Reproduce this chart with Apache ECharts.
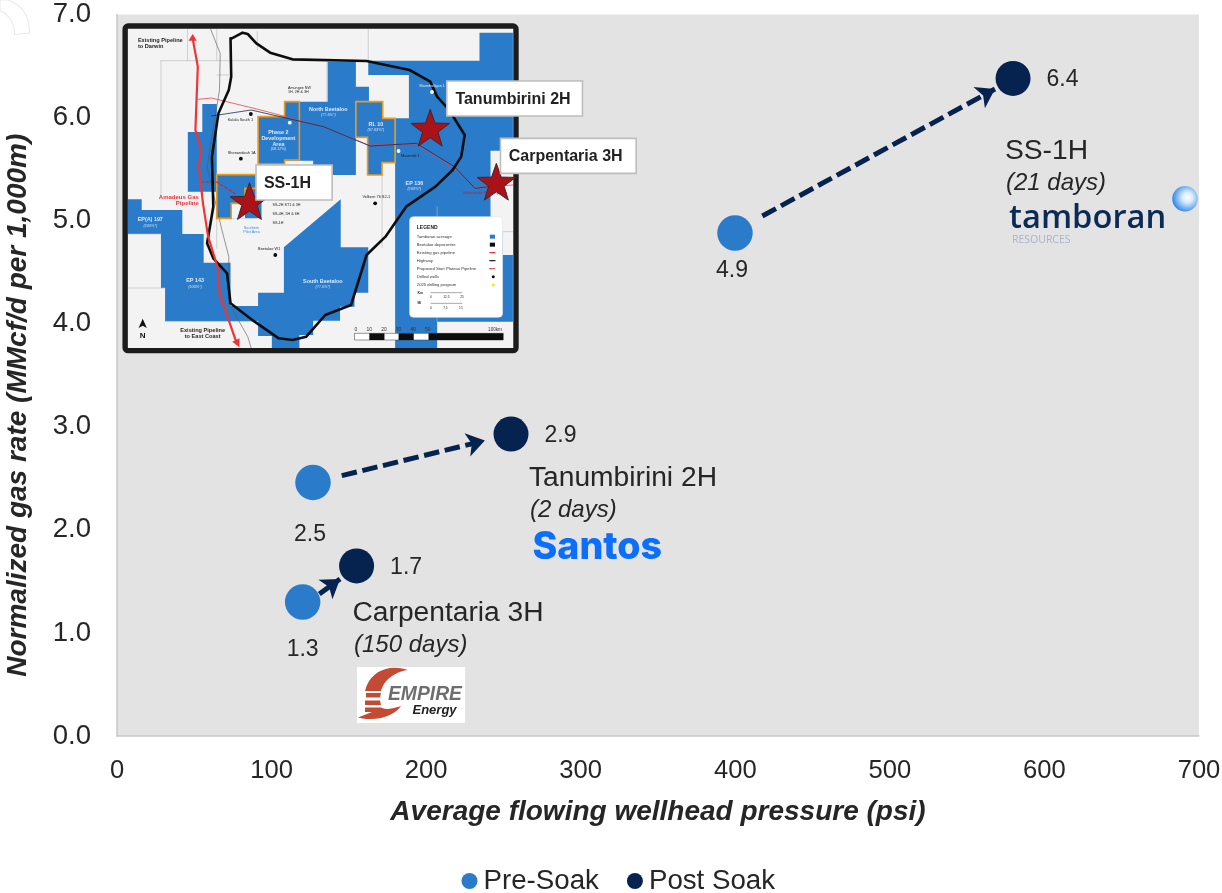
<!DOCTYPE html>
<html><head><meta charset="utf-8">
<style>html,body{margin:0;padding:0;background:#fff}#c{width:1222px;height:893px}</style>
<script src="https://cdn.jsdelivr.net/npm/echarts@6/dist/echarts.min.js"></script>
</head><body><div id="c"></div>
<script>
// ---------- chart values ----------
const preSoakX  = [399.8, 126.8, 120.1];
const preSoakY  = [4.88, 2.46, 1.30];
const postSoakX = [579.7, 254.9, 155.0];
const postSoakY = [6.38, 2.93, 1.65];
const preLabels  = ['4.9', '2.5', '1.3'];
const postLabels = ['6.4', '2.9', '1.7'];
const preLabelOffset = [[-3,38], [-3,52], [0,48]];
const arrowFrom = [[417.5, 5.045], [145.4, 2.526], [130.9, 1.378]];
const arrowTo   = [[568.0, 6.277], [238.0, 2.866], [144.3, 1.523]];
const xTitle = 'Average flowing wellhead pressure (psi)';
const yTitle = 'Normalized gas rate (MMcf/d per 1,000m)';

// ---------- colours ----------
const PRE = '#2a7ccb', POST = '#06234f', INK = '#262626', FONT = '"Liberation Sans", Arial, sans-serif';
const BLUE = '#2a7bca', ORANGE = '#f09a1a', RED = '#ee3535', STAR = '#ab1119';

// ---------- decoration helpers (inset map uses its own picture coordinates) ----------
const zx = x => 110 + x / 2.904, zy = y => 10 + y / 3;
const zp = a => a.map(p => [zx(p[0]), zy(p[1])]);
const g = [];
const poly = (pts, fill, stroke, lw) => g.push({type:'polygon', silent:true, shape:{points:zp(pts)}, style:{fill:fill||'none', stroke:stroke||'none', lineWidth:lw||0, lineJoin:'miter'}});
const pxPoly = (pts, style) => g.push({type:'polygon', silent:true, shape:{points:pts}, style});
const line = (pts, stroke, lw, dash) => g.push({type:'polyline', silent:true, shape:{points:zp(pts)}, style:{fill:'none', stroke, lineWidth:lw, lineDash:dash||null, lineJoin:'round', lineCap:'round'}});
const rect = (x0,y0,x1,y1,fill,stroke,lw,r) => g.push({type:'rect', silent:true, shape:{x:zx(x0),y:zy(y0),width:zx(x1)-zx(x0),height:zy(y1)-zy(y0),r:r||0}, style:{fill:fill||'none',stroke:stroke||'none',lineWidth:lw||0}});
const txt = (x,y,text,size,o={}) => g.push({type:'text', silent:true, x, y, style:Object.assign({text, fontSize:size, fontFamily:FONT, fill:INK, align:'left', verticalAlign:'middle', lineHeight:size*1.15}, o)});
const ztxt = (x,y,text,size,o) => txt(zx(x),zy(y),text,size,o);
const star = (x,y,r) => {
  const pts=[]; for(let i=0;i<10;i++){const a=-Math.PI/2+i*Math.PI/5, rr=i%2?r*0.4:r; pts.push([zx(x)+rr*Math.cos(a), zy(y)+rr*Math.sin(a)]);}
  pxPoly(pts,{fill:STAR, stroke:'#3a2a2a', lineWidth:1});
};
const bez = (a,b,c,d) => { const o=[]; for(let i=0;i<=12;i++){const t=i/12,u=1-t; o.push([0,1].map(k=>u*u*u*a[k]+3*u*u*t*b[k]+3*u*t*t*c[k]+t*t*t*d[k]));} return o; };

// faint mark in the page corner
pxPoly([[8,0],...bez([8,0],[22,6],[29,13],[29.5,33]),[14.5,34.5],...bez([14.5,34.5],[15,24],[9,14],[0,11]),[0,0]],{fill:'#fff',stroke:'#e9e9e9',lineWidth:1.1});

// map base
rect(48,50,1176,1018,'#f3f3f3');
// acreage blocks
poly([[632,155],[714,155],[714,230],[752,230],[752,275],[714,275],[714,495],[590,495],[590,452],[507,452],[507,462],[430,462],[430,320],[507,320],[507,275],[632,275]],BLUE);
poly([[1073,68],[1170,68],[1170,422],[1105,422],[1105,665],[1140,665],[1140,735],[1170,735],[1170,935],[950,935],[950,1014],[828,1014],[828,325],[868,325],[868,195],[750,195],[750,152],[1073,152]],BLUE);
poly([[670,568],[670,712],[750,712],[750,848],[710,848],[710,890],[668,890],[668,932],[590,932],[590,975],[550,975],[550,1014],[470,1014],[470,978],[430,978],[430,934],[160,934],[160,834],[148,834],[148,672],[272,672],[272,758],[350,758],[350,888],[430,888],[430,848],[505,848],[505,712]],BLUE);
poly([[52,568],[92,568],[92,600],[210,600],[210,672],[52,672]],BLUE);
poly([[226,366],[268,366],[268,282],[310,282],[310,545],[226,545]],BLUE);
poly([[310,494],[425,494],[425,535],[440,535],[440,625],[310,625]],BLUE);
rect(352,582,392,625,'#f3f3f3');
// tract lines
[[[148,152],[148,568]],[[148,152],[632,152]],[[225,57],[225,152]],[[310,57],[310,152]],[[428,65],[428,120]],[[750,57],[750,152]],[[790,495],[790,712]],[[310,195],[345,195]],[[310,600],[310,715]],[[1105,665],[1170,665]],[[950,590],[950,935]],[[52,672],[148,672]],[[52,834],[160,834]],[[160,934],[430,934]],[[630,152],[630,275]]].forEach(p=>line(p,'#b9b9b9',0.6));
line([[292,57],[320,130],[318,240],[290,420],[282,470],[325,660],[345,740],[345,880],[400,980],[410,1014]],'#555',0.6);
// orange development areas
poly([[507,275],[550,275],[550,450],[507,450],[507,462],[430,462],[430,320],[507,320]],null,ORANGE,1.6);
poly([[714,275],[792,275],[792,325],[828,325],[828,458],[790,458],[790,495],[748,495],[748,382],[714,382]],BLUE,ORANGE,1.6);
poly([[310,494],[425,494],[425,535],[392,535],[392,580],[352,580],[352,625],[310,625]],null,ORANGE,1.6);
// pipelines and road
line([[255,268],[295,264],[430,298],[620,350],[750,405],[890,402],[1000,475],[1060,532],[1170,525]],'#e2474a',0.8);
line([[295,318],[410,300],[620,350],[755,408],[890,400],[1000,470],[1060,535],[1100,530]],'#1c2c52',0.8);
line([[265,516],[310,516],[370,555]],'#d42030',1.2,[2.5,2.5]);
line([[354,85],[385,68],[400,72],[425,100],[465,128],[530,148],[745,153],[870,180],[930,215],[950,260],[985,300],[1030,375],[1020,440],[995,480],[945,530],[860,590],[800,680],[745,735],[700,885],[625,915],[570,980],[530,990],[490,985],[420,935],[350,880],[340,790],[300,745],[282,700],[300,590],[296,440],[315,310],[345,240],[352,200],[350,85],[354,85]],'#0d0d0d',2.6);
line([[240,85],[255,170],[248,360],[265,420],[258,470],[270,580],[285,680],[315,780],[318,850],[368,1000]],RED,2.2);
poly([[240,72],[228,92],[252,92]],RED);
poly([[376,1012],[355,995],[376,985]],RED);
// wells
[[409,312],[380,446],[480,735],[770,580]].forEach(p=>g.push({type:'circle',silent:true,shape:{cx:zx(p[0]),cy:zy(p[1]),r:1.9},style:{fill:'#0d0d0d'}}));
[[522,338],[838,423],[935,246]].forEach(p=>g.push({type:'circle',silent:true,shape:{cx:zx(p[0]),cy:zy(p[1]),r:1.9},style:{fill:'#fff'}}));
// map text
const B = {fontWeight:'bold'}, W = {fontWeight:'bold',fill:'#dfeafa',align:'center'}, WS = {fill:'#cfe0f5',align:'center',fontStyle:'italic'}, C={align:'center'};
ztxt(81,101,'Existing Pipeline\nto Darwin',5.6,{fontWeight:'bold'});
ztxt(269,971,'Existing Pipeline\nto East Coast',5.6,{fontWeight:'bold',align:'center'});
ztxt(258,571,'Amadeus Gas\nPipeline',6,{fontWeight:'bold',fill:'#e8353b',align:'right'});
ztxt(634,299,'North Beetaloo',5.4,W); ztxt(634,316,'(77.5%*)',3.8,WS);
ztxt(772,344,'RL 10',5.4,W); ztxt(772,361,'(67.63%*)',3.8,WS);
ztxt(489,385,'Phase 2\nDevelopment\nArea',5.4,W); ztxt(489,416,'(58.12%)',3.8,WS);
ztxt(884,520,'EP 136',5.4,W); ztxt(884,538,'(100%*)',3.8,WS);
ztxt(117,628,'EP(A) 197',5.4,W); ztxt(117,649,'(100%*)',3.8,WS);
ztxt(247,813,'EP 143',5.4,W); ztxt(247,831,'(100%*)',3.8,WS);
ztxt(618,814,'South Beetaloo',5.4,W); ztxt(618,832,'(77.5%*)',3.8,WS);
[[342,331,'Kalala South 1'],[342,429,'Shenandoah 1A'],[430,717,'Beetaloo W1'],[733,562,'Velkerri 76 S2-1'],[845,437,'Maverick 1']].forEach(t=>ztxt(t[0],t[1],t[2],3.9,{fill:'#222'}));
ztxt(517,240,'Amungee NW\n1H, 2H & 3H',3.7,{fill:'#222'});
ztxt(899,227,'Marmbulligan 1',3.7,{fill:'#dfeafa'});
[[472,585,'SS-2H ST1 & 3H'],[472,612,'SS-4H, 5H & 6H'],[472,639,'SS-1H']].forEach(t=>ztxt(t[0],t[1],t[2],3.7,{fill:'#222'}));
ztxt(411,659,'Southern\nPilot Area',3.8,{fill:'#3b8de0',align:'center'});
ztxt(1090,548,'Mukinbudin Road Pipeline',3.8,{fill:'#c8202c',align:'center'});
// legend box
rect(870,620,1140,922,'#fff','#e3e3e3',0.6,4);
ztxt(891,654,'LEGEND',5,{fontWeight:'bold'});
[['Tamboran acreage',680],['Beetaloo depocentre',704],['Existing gas pipeline',728],['Highway',752],['Proposed Sturt Plateau Pipeline',776],['Drilled wells',800],['2025 drilling program',825]].forEach(r=>ztxt(891,r[1],r[0],4.2,{fill:'#333'}));
rect(1103,674,1118,686,BLUE); rect(1103,698,1118,710,'#0d0d0d');
line([[1103,728],[1118,728]],RED,1.2); line([[1103,752],[1118,752]],'#222',1.2); line([[1103,776],[1118,776]],RED,1.2,[1.5,1.5]);
[[1113,800,'#0d0d0d'],[1113,825,'#f7e418']].forEach(p=>g.push({type:'circle',silent:true,shape:{cx:zx(p[0]),cy:zy(p[1]),r:1.5},style:{fill:p[2]}}));
ztxt(893,848,'Km',3.4,B); ztxt(893,880,'Mi',3.4,B);
line([[932,848],[1022,848]],'#555',0.5); line([[932,880],[1022,880]],'#555',0.5);
ztxt(932,861,'0',3.2,C); ztxt(977,861,'12.5',3.2,C); ztxt(1022,861,'25',3.2,C);
ztxt(932,893,'0',3.2,C); ztxt(974,893,'7.5',3.2,C); ztxt(1019,893,'15',3.2,C);
// scale bar
rect(710,970,1142,990,'#fff','#333',0.5);
[[753,797],[838,882],[925,1142]].forEach(s=>rect(s[0],970,s[1],990,'#0d0d0d'));
[[714,'0'],[753,'10'],[796,'20'],[838,'30'],[881,'40'],[923,'50']].forEach(t=>ztxt(t[0],959,t[1],5,{align:'center',fill:'#333'}));
ztxt(1118,959,'100km',4.6,{align:'center',fill:'#333'});
// north arrow
poly([[95,926],[83,954],[95,947],[107,954]],'#111');
ztxt(95,978,'N',8,{fontWeight:'bold',align:'center',fill:'#111'});
// frame
rect(44,48,1179,1022,'none','#1c1c1c',5.4,3);
// stars and callouts
star(930,359,20.3); star(1122,521,20.3); star(405,579,20.3);
rect(978,213,1372,318,'#fff','#bdbdbd',1.6);
rect(1134,385,1528,490,'#fff','#bdbdbd',1.6);
rect(424,465,645,570,'#fff','#bdbdbd',1.6);
ztxt(1003,269,'Tanumbirini 2H',16,{fontWeight:'bold',fill:'#222'});
ztxt(1158,439,'Carpentaria 3H',16,{fontWeight:'bold',fill:'#222'});
ztxt(447,520,'SS-1H',16,{fontWeight:'bold',fill:'#222'});

// well annotations
txt(1005,151,'SS-1H',28.2); txt(1006,183,'(21 days)',24,{fontStyle:'italic'});
txt(529,478,'Tanumbirini 2H',28.2); txt(530,510,'(2 days)',24,{fontStyle:'italic'});
txt(352.5,613,'Carpentaria 3H',28.2); txt(354,645,'(150 days)',24,{fontStyle:'italic'});

// logos
txt(1009,219,'tamboran',32.7,{fontFamily:'"Open Sans"',fontWeight:600,fill:'#0b2a55'});
txt(1012,240,'RESOURCES',10.5,{fontFamily:'"Open Sans"',fill:'#aab3c6'});
g.push({type:'circle',silent:true,shape:{cx:1185,cy:198.7,r:12.8},style:{fill:{type:'radial',x:0.6,y:0.45,r:0.6,colorStops:[{offset:0,color:'#ffffff'},{offset:0.35,color:'#d6ebfb'},{offset:1,color:'#2f86ea'}]}}});
txt(532.5,547.5,'Santos',37.6,{fontFamily:'Inter',fontWeight:800,fill:'#0b6ffb'});
g.push({type:'rect',silent:true,shape:{x:357,y:667,width:108,height:56},style:{fill:'#fff'}});
const EMP = {fill:'#c44a33'};
pxPoly([...bez([408,670],[390,664],[370,670],[365,691]),...bez([381,691],[384,680],[394,672],[408,670])],EMP);
pxPoly([[366,693],[381,693],[380,697.5],[366,697.5]],EMP);
pxPoly([[365,700.5],[380,700.5],[381,705],[365,705]],EMP);
pxPoly([[365,707.5],[381,707.5],...bez([381,707.5],[386,710],[392,709],[401,706]),...bez([401,706],[394,716],[376,722],[358,717.5]),[372,712],[365,712]],EMP);
txt(388,694.5,'EMPIRE',19.3,{fontWeight:'bold',fontStyle:'italic',fill:'#6e6e6e'});
txt(412.5,710,'Energy',13,{fontWeight:'bold',fontStyle:'italic',fill:'#222'});

// ---------- chart ----------
const AXIS = {show:true,lineStyle:{color:'#c8c8c8',width:1.5}};
const chart = echarts.init(document.getElementById('c'), null, {renderer:'canvas'});
chart.setOption({
  animation:false,
  textStyle:{fontFamily:FONT},
  grid:{left:117,right:23,top:14.5,bottom:157,show:true,backgroundColor:'#e3e3e3',borderWidth:0,outerBoundsMode:'none'},
  xAxis:{type:'value',min:0,max:700,interval:100,
    axisLine:AXIS,axisTick:{show:false},splitLine:{show:false},
    axisLabel:{fontSize:25.6,color:INK,margin:22,fontFamily:FONT,hideOverlap:false,showMinLabel:true,showMaxLabel:true},
    name:xTitle,nameLocation:'middle',nameGap:62,
    nameTextStyle:{fontSize:28,fontWeight:'bold',fontStyle:'italic',color:INK,fontFamily:FONT}},
  yAxis:{type:'value',min:0,max:7,interval:1,
    axisLine:AXIS,axisTick:{show:false},splitLine:{show:false},
    axisLabel:{fontSize:27.6,color:INK,margin:26,fontFamily:FONT,formatter:v=>v.toFixed(1)},
    name:yTitle,nameLocation:'middle',nameGap:85,
    nameTextStyle:{fontSize:28,fontWeight:'bold',fontStyle:'italic',color:INK,fontFamily:FONT,padding:[0,60,0,0]}},
  legend:{data:['Pre-Soak','Post Soak'],left:456.5,top:862,itemWidth:16,itemHeight:16,itemGap:28,icon:'circle',
    textStyle:{fontSize:27.7,color:INK,fontFamily:FONT,padding:[0,0,0,1]}},
  graphic:{elements:g},
  series:[
    {type:'lines',coordinateSystem:'cartesian2d',polyline:false,z:3,silent:true,
     symbol:['none','arrow'],symbolSize:18,
     lineStyle:{color:POST,width:5,type:[15.5,5.7],opacity:1,curveness:0},
     data:arrowFrom.map((f,i)=>({coords:[f,arrowTo[i]]}))},
    {name:'Pre-Soak',type:'scatter',symbolSize:35.5,z:4,itemStyle:{color:PRE,opacity:1},
     label:{show:true,fontSize:23,color:INK,fontFamily:FONT},
     data:preSoakX.map((x,i)=>({value:[x,preSoakY[i]],label:{position:'inside',offset:preLabelOffset[i],formatter:preLabels[i]}}))},
    {name:'Post Soak',type:'scatter',symbolSize:35,z:4,itemStyle:{color:POST,opacity:1},
     label:{show:true,fontSize:23,color:INK,fontFamily:FONT,position:'right',distance:15,offset:[1,1.5]},
     data:postSoakX.map((x,i)=>({value:[x,postSoakY[i]],label:{formatter:postLabels[i]}}))}
  ]
});
</script></body></html>
